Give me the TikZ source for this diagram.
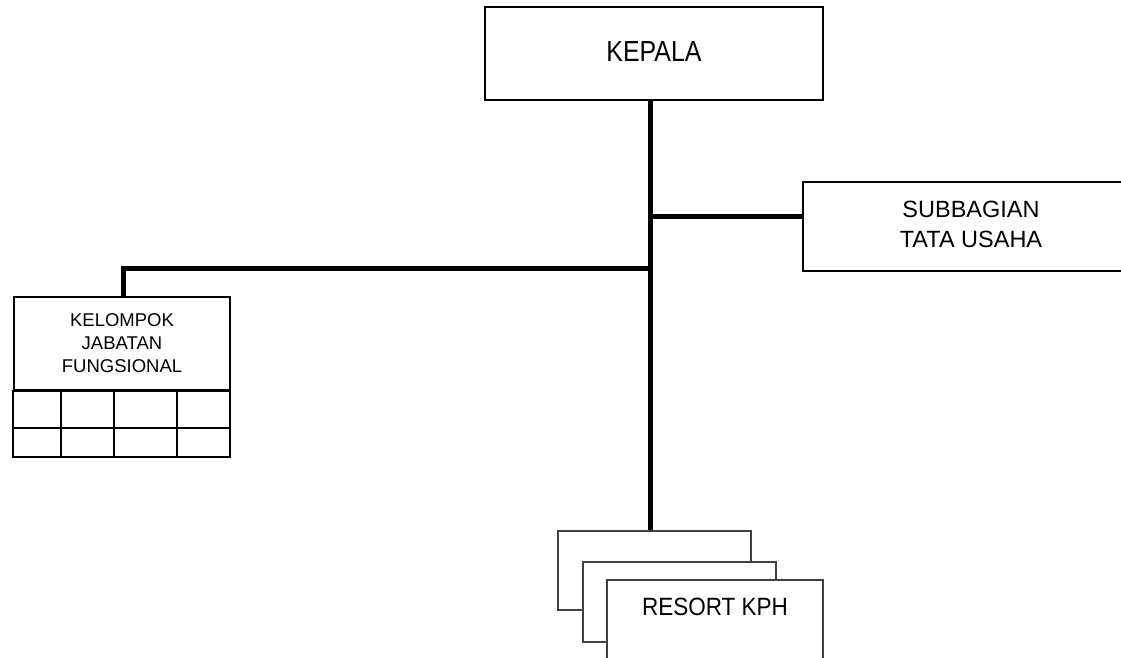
\documentclass[tikz,border=0pt]{standalone}
\usepackage{fontspec}
\setmainfont{Liberation Sans}
\usetikzlibrary{calc}
\begin{document}
\begin{tikzpicture}[x=1pt,y=-1pt,
  box/.style={draw=black,line width=2pt,fill=white,inner sep=0pt,align=center},
  rbox/.style={draw=black!75,line width=1.5pt,fill=white,inner sep=0pt},
  conn/.style={line width=5pt}]
\clip (0,0) rectangle (1121,657);
\fill[white] (0,0) rectangle (1121,657);
% boxes
\node[box,minimum width=338pt,minimum height=93pt,text depth=4pt,font={\fontsize{29}{34}\selectfont}] (kepala) at (654,53.5)
  {\scalebox{0.86}[1]{KEPALA}};
\node[box,minimum width=336pt,minimum height=89pt,font={\fontsize{23.5}{30}\selectfont}] (subbag) at (971,226.5)
  {SUBBAGIAN\\TATA USAHA\rule[-4pt]{0pt}{1pt}};
\node[box,line width=1.6pt,minimum width=216pt,minimum height=93pt,font={\fontsize{18.5}{23}\selectfont}] (kelompok) at (122,343.5)
  {KELOMPOK\\JABATAN\\FUNGSIONAL};
% grid below kelompok
\draw[line width=1.6pt] (kelompok.south west) rectangle (230,457);
\draw[line width=1.6pt] (14,428) -- (230,428)
  (61,390) -- (61,457) (114,390) -- (114,457) (177,390) -- (177,457);
% resort stack
\node[rbox,minimum width=193pt,minimum height=79pt] (resort1) at (654.5,570.5) {};
\node[rbox,minimum width=193pt,minimum height=80pt] (resort2) at (679.5,602) {};
\node[rbox,minimum width=216pt,anchor=north,inner ysep=17.7pt,text height=18.3pt,text depth=60pt,font={\fontsize{25}{30}\selectfont}] (resort3) at (715,579)
  {\scalebox{0.9}[1]{RESORT KPH}};
% connectors
\coordinate (j1) at (650.5,216);
\coordinate (j2) at (650.5,268);
\draw[conn] (kepala.south -| j1) -- (resort1.north -| j1);
\draw[conn] (j1) -- (j1 -| subbag.west);
\draw[conn] (j2) -| ([xshift=1pt]kelompok.north);
\end{tikzpicture}
\end{document}
